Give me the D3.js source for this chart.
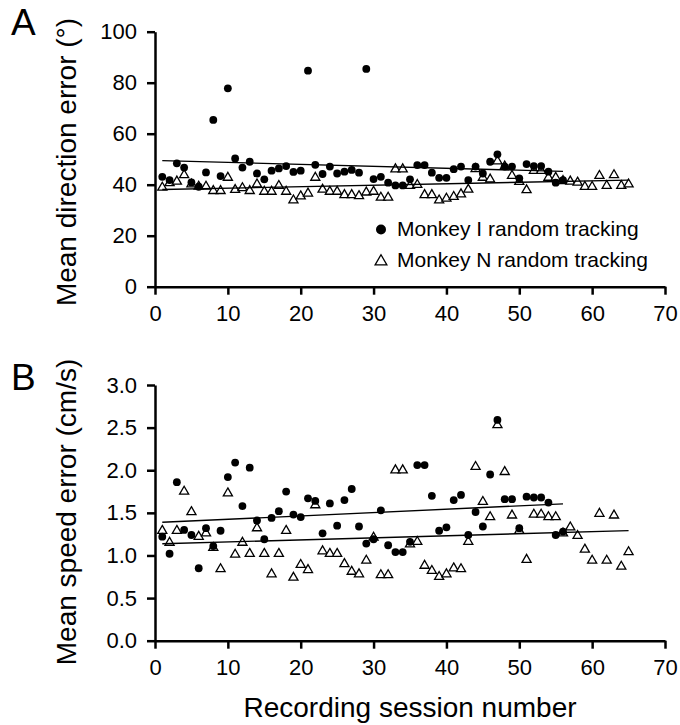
<!DOCTYPE html>
<html>
<head>
<meta charset="utf-8">
<script src="https://cdn.jsdelivr.net/npm/d3@7"></script>
<style>
  body { margin: 0; background: #fff; }
  svg text { font-family: Arial, "Liberation Sans", sans-serif; fill: #000; }
</style>
</head>
<body>
<svg id="chart" width="680" height="725"></svg>
<script>
// session numbers
var sessI = d3.range(1, 57)
var sessN = d3.range(1, 66)

// panel A - mean direction error (deg)
var dirI = [43.1, 41.8, 48.4, 46.7, 40.9, 39.2, 44.8, 65.4, 43.4, 77.8,
    50.3, 46.7, 49.0, 44.4, 42.1, 45.5, 46.4, 47.3, 45.0, 45.5,
    84.7, 47.8, 44.2, 47.1, 44.4, 45.1, 45.8, 44.7, 85.4, 42.2,
    43.1, 40.8, 39.7, 39.7, 42.1, 47.7, 47.7, 44.7, 42.7, 42.7,
    46.1, 47.1, 41.8, 47.1, 44.4, 49.0, 51.9, 47.1, 47.1, 42.5,
    48.1, 47.3, 47.3, 45.1, 40.8, 41.8]
var dirN = [39.2, 41.0, 41.6, 44.1, 40.5, 39.6, 39.6, 37.9, 37.9, 43.1,
    38.3, 39.0, 37.9, 40.5, 37.6, 37.6, 39.9, 37.6, 34.2, 35.8,
    36.9, 43.1, 38.4, 37.6, 37.6, 36.3, 36.3, 35.9, 37.3, 37.6,
    35.3, 35.3, 46.4, 46.4, 39.9, 40.3, 36.3, 36.3, 34.2, 34.9,
    35.6, 36.6, 38.4, 46.5, 43.1, 42.4, 49.5, 47.5, 43.8, 41.5,
    38.2, 45.8, 45.8, 43.1, 43.1, 41.8, 41.6, 41.2, 39.5, 39.5,
    43.8, 39.9, 44.1, 39.9, 40.5]

// panel B - mean speed error (cm/s)
var spdI = [1.22, 1.02, 1.86, 1.30, 1.24, 0.85, 1.32, 1.11, 1.29, 1.92,
    2.09, 1.58, 2.03, 1.41, 1.19, 1.44, 1.52, 1.75, 1.48, 1.45,
    1.67, 1.64, 1.26, 1.61, 1.35, 1.65, 1.78, 1.34, 1.14, 1.19,
    1.53, 1.12, 1.04, 1.04, 1.16, 2.06, 2.06, 1.70, 1.29, 1.33,
    1.65, 1.71, 1.24, 1.51, 1.34, 1.95, 2.59, 1.66, 1.66, 1.32,
    1.69, 1.68, 1.68, 1.62, 1.24, 1.28]
var spdN = [1.30, 1.16, 1.30, 1.76, 1.52, 1.23, 1.27, 1.10, 0.85, 1.74,
    1.02, 1.16, 1.03, 1.33, 1.03, 0.79, 1.03, 1.30, 0.75, 0.90,
    0.84, 1.60, 1.06, 1.03, 1.03, 0.91, 0.82, 0.79, 0.95, 1.22,
    0.78, 0.78, 2.01, 2.01, 1.14, 1.17, 0.89, 0.83, 0.76, 0.79,
    0.86, 0.85, 1.17, 2.05, 1.64, 1.46, 2.54, 1.99, 1.48, 1.30,
    0.96, 1.49, 1.49, 1.46, 1.46, 1.27, 1.34, 1.24, 1.08, 0.95,
    1.50, 0.95, 1.48, 0.88, 1.05]

var xTicks = [0, 10, 20, 30, 40, 50, 60, 70]
var dirTicks = [0, 20, 40, 60, 80, 100]
var spdTicks = [0, 0.5, 1.0, 1.5, 2.0, 2.5, 3.0]
var legendLabels = ["Monkey I random tracking", "Monkey N random tracking"]

var svg = d3.select("#chart")

var x = d3.scaleLinear().domain([0, 70]).range([155, 665])

// least squares line through a series
var fit = function (xs, ys) {
    var mx = d3.mean(xs), my = d3.mean(ys)
    var sxy = d3.sum(xs, function (d, i) { return (d - mx) * (ys[i] - my) })
    var sxx = d3.sum(xs, function (d) { return (d - mx) * (d - mx) })
    var b = sxy / sxx
    return function (v) { return my + b * (v - mx) }
}

var tri = d3.symbol().type(d3.symbolTriangle)

var panel = function (opt) {
    var y = d3.scaleLinear().domain(opt.domain).range(opt.range)
    var g = svg.append("g")

    // markers: triangles under circles
    g.selectAll(".tri")
        .data(sessN)
        .enter().append("path")
        .attr("d", tri.size(36))
        .attr("transform", function (d, i) {
            return "translate(" + x(d) + "," + (y(opt.n[i]) + 0.8) + ")"
        })
        .style("fill", "#fff")
        .style("stroke", "#000")
        .style("stroke-width", 1.3)

    g.selectAll(".dot")
        .data(sessI)
        .enter().append("circle")
        .attr("cx", function (d) { return x(d) })
        .attr("cy", function (d, i) { return y(opt.i[i]) })
        .attr("r", 3.9)
        .style("fill", "#000")

    // regression lines
    var fI = fit(sessI, opt.i)
    var fN = fit(sessN, opt.n)
    g.append("line")
        .attr("x1", x(1)).attr("x2", x(56))
        .attr("y1", y(fI(1))).attr("y2", y(fI(56)))
        .style("stroke", "#000").style("stroke-width", 1.4)
    g.append("line")
        .attr("x1", x(1)).attr("x2", x(65))
        .attr("y1", y(fN(1))).attr("y2", y(fN(65)))
        .style("stroke", "#000").style("stroke-width", 1.4)

    // axes
    var xa = g.append("g")
        .attr("transform", "translate(0," + opt.range[0] + ")")
        .call(d3.axisBottom(x).tickValues(xTicks).tickSize(8).tickSizeOuter(0).tickPadding(11))
    var ya = g.append("g")
        .attr("transform", "translate(155,0)")
        .call(d3.axisLeft(y).tickValues(opt.ticks).tickSize(8).tickSizeOuter(0).tickPadding(10).tickFormat(opt.fmt))

    ;[xa, ya].forEach(function (a) {
        a.select(".domain").style("stroke", "#000").style("stroke-width", 2.5)
        a.selectAll(".tick line").style("stroke", "#000").style("stroke-width", 2.5)
        a.selectAll(".tick text").style("font-size", "22px").style("fill", "#000")
            .style("font-family", 'Arial, "Liberation Sans", sans-serif')
    })

    svg.append("text")
        .text(opt.title)
        .attr("transform", "translate(76," + opt.titleY + ") rotate(-90)")
        .style("text-anchor", "middle")
        .style("font-size", "28px")

    svg.append("text")
        .text(opt.letter)
        .attr("x", 11)
        .attr("y", opt.letterY)
        .style("font-size", "37px")
}

panel({
    domain: [0, 100], range: [286.7, 31.7], i: dirI, n: dirN,
    ticks: dirTicks, fmt: d3.format("d"),
    title: "Mean direction error (°)", titleY: 162,
    letter: "A", letterY: 35
})

panel({
    domain: [0, 3], range: [640.7, 385], i: spdI, n: spdN,
    ticks: spdTicks, fmt: d3.format(".1f"),
    title: "Mean speed error (cm/s)", titleY: 512,
    letter: "B", letterY: 390
})

svg.append("text")
    .text("Recording session number")
    .attr("x", 410)
    .attr("y", 717)
    .style("text-anchor", "middle")
    .style("font-size", "28px")

// legend
var legend = svg.append("g")
legend.append("circle")
    .attr("cx", 381).attr("cy", 229.5).attr("r", 5)
    .style("fill", "#000")
legend.append("path")
    .attr("d", tri.size(60))
    .attr("transform", "translate(381,261.5)")
    .style("fill", "#fff").style("stroke", "#000").style("stroke-width", 1.3)
legend.selectAll(".lt")
    .data(legendLabels)
    .enter().append("text")
    .attr("x", 397)
    .attr("y", function (d, i) { return 236 + i * 31 })
    .text(function (d) { return d })
    .style("font-size", "21px")
</script>
</body>
</html>
